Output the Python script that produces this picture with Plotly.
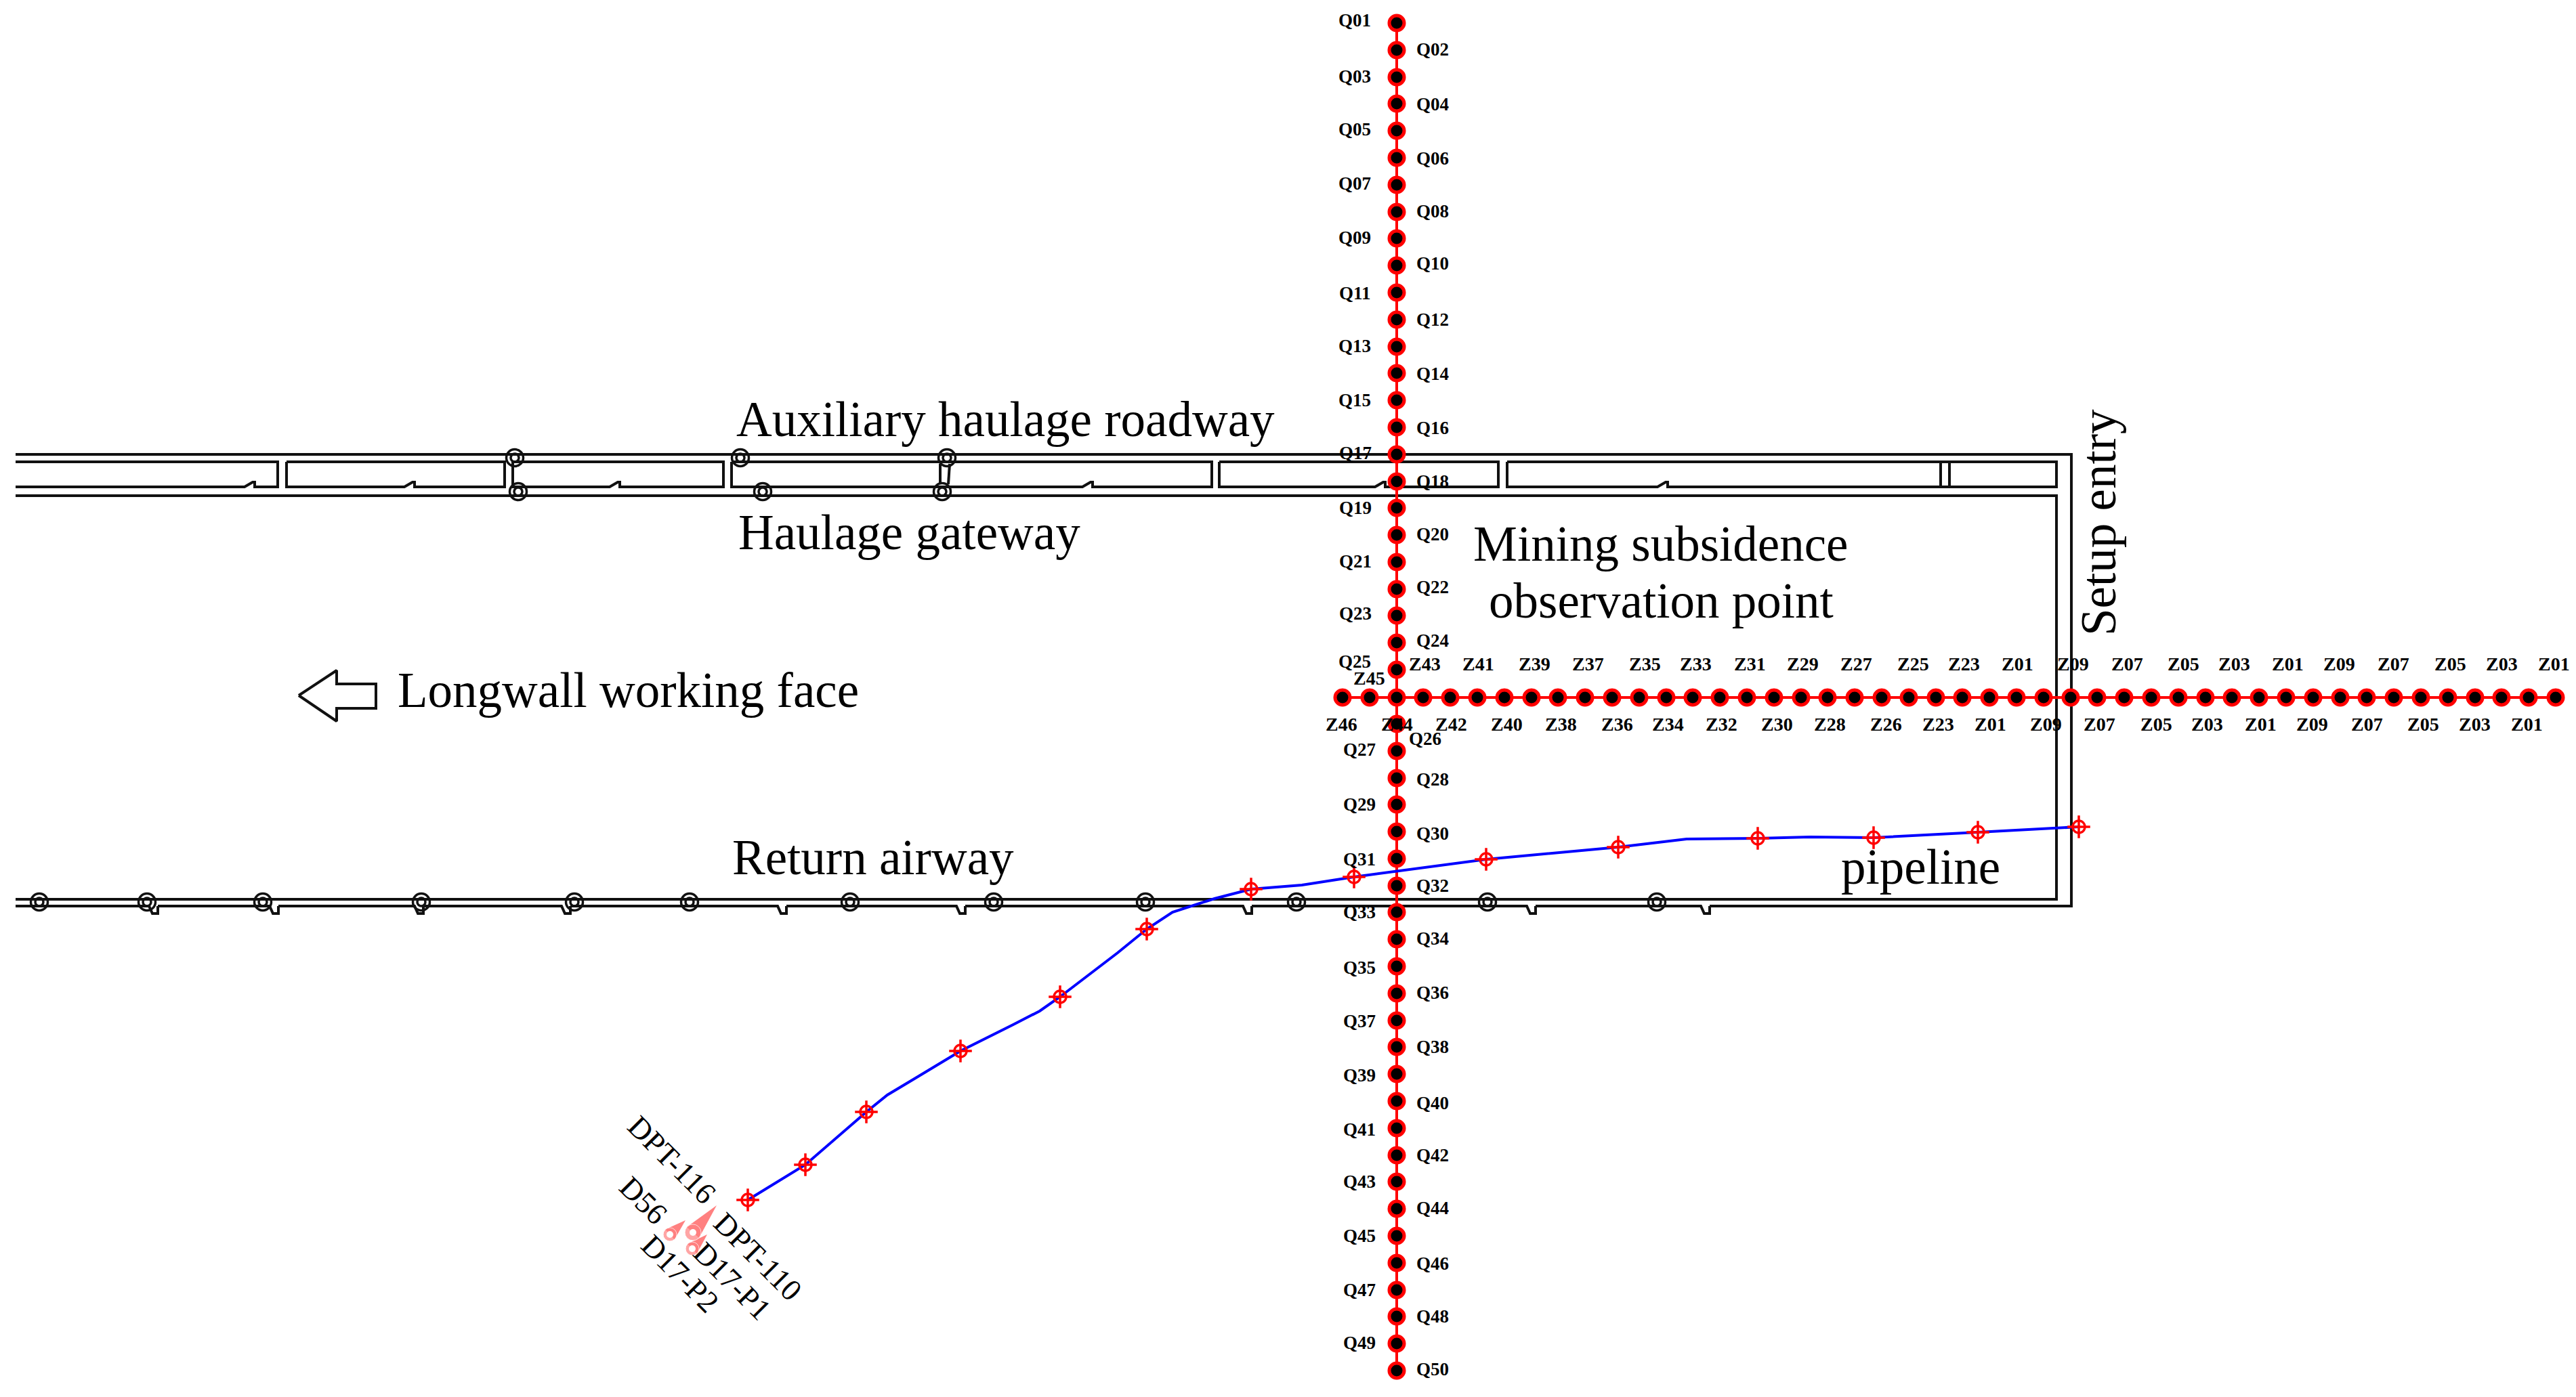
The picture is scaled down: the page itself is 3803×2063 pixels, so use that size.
"""
Longwall panel layout with the subsidence observation lines and the pipeline.
All coordinates are image pixels read off the picture.
"""

import plotly.graph_objects as go

W = 3803
H = 2063
SERIF = "Liberation Serif"

# Subsidence observation lines
q_labels = ["Q%02d" % i for i in range(1, 51)]
q_y = [34, 74, 114, 153, 193, 233, 273, 313, 352, 392, 432, 472, 512, 551, 591, 631, 671, 711, 750, 790, 830,
       870, 909, 949, 989, 1069, 1109, 1149, 1188, 1228, 1268, 1308, 1347, 1387, 1427, 1467, 1507, 1546, 1586,
       1626, 1666, 1706, 1745, 1785, 1825, 1865, 1905, 1944, 1984, 2024]
q_label_x = [2000, 2115, 2000, 2115, 2000, 2115, 2000, 2115, 2000, 2115, 2000, 2115, 2000, 2115, 2000, 2115, 2001,
             2115, 2001, 2115, 2001, 2115, 2001, 2115, 2000, 2104, 2007, 2115, 2007, 2115, 2007, 2115, 2007, 2115,
             2007, 2115, 2007, 2115, 2007, 2115, 2007, 2115, 2007, 2115, 2007, 2115, 2007, 2115, 2007, 2115]
q_label_y = [30, 73, 113, 154, 191, 234, 271, 312, 351, 389, 433, 472, 511, 552, 591, 632, 669, 711, 750, 789, 829,
             867, 906, 946, 977, 1091, 1107, 1151, 1188, 1231, 1269, 1308, 1347, 1386, 1429, 1466, 1508, 1546, 1588,
             1629, 1668, 1706, 1745, 1784, 1825, 1866, 1905, 1944, 1983, 2022]

z_x = [1982, 2022, 2062, 2101, 2141, 2181, 2221, 2261, 2300, 2340, 2380, 2420, 2460, 2499, 2539, 2579, 2619, 2659,
       2698, 2738, 2778, 2818, 2858, 2897, 2937, 2977, 3017, 3057, 3096, 3136, 3176, 3216, 3256, 3295, 3335, 3375,
       3415, 3455, 3494, 3534, 3574, 3614, 3654, 3693, 3733, 3773]
z_row_y = 1030

z_top_labels = ["Z45", "Z43", "Z41", "Z39", "Z37", "Z35", "Z33", "Z31", "Z29", "Z27", "Z25", "Z23", "Z01", "Z09",
                "Z07", "Z05", "Z03", "Z01", "Z09", "Z07", "Z05", "Z03", "Z01"]
z_top_x = [2021, 2103, 2182, 2265, 2344, 2428, 2503, 2583, 2661, 2740, 2824, 2899, 2978, 3060, 3140, 3223, 3298,
           3377, 3453, 3533, 3617, 3693, 3770]
z_top_y = [1001] + [980] * 22

z_bottom_labels = ["Z46", "Z44", "Z42", "Z40", "Z38", "Z36", "Z34", "Z32", "Z30", "Z28", "Z26", "Z23", "Z01", "Z09",
                   "Z07", "Z05", "Z03", "Z01", "Z09", "Z07", "Z05", "Z03", "Z01"]
z_bottom_x = [1980, 2062, 2142, 2224, 2304, 2387, 2462, 2541, 2623, 2701, 2784, 2861, 2938, 3020, 3099, 3183, 3258,
              3337, 3413, 3494, 3577, 3653, 3730]
z_bottom_y = 1069

# Pipeline
pipe_x = [1104, 1189, 1279, 1310, 1350, 1418, 1496, 1535, 1565, 1650, 1693, 1731, 1793, 1847, 1922, 1999, 2194, 2389,
          2490, 2595, 2672, 2766, 2920, 3069]
pipe_y = [1772, 1720, 1642, 1617, 1593, 1552, 1513, 1493, 1472, 1407, 1372, 1347, 1327, 1313, 1307, 1295, 1269, 1251,
          1239, 1238, 1236, 1237, 1229, 1221]
station_x = [1104, 1189, 1279, 1418, 1565, 1693, 1847, 1999, 2194, 2389, 2595, 2766, 2920, 3069]
station_y = [1772, 1720, 1642, 1552, 1472, 1372, 1313, 1295, 1269, 1251, 1238, 1237, 1229, 1221]

# Roadways
outer_x = [23, 3058, 3058]
outer_y = [671, 671, 1338]
inner_x = [23, 3036, 3036, 23]
inner_y = [732, 732, 1328, 1328]
return_notch_x = [2511, 2254, 1835, 1412, 1148, 829, 612, 398, 220]
panel_left = [23, 423, 757, 1080, 1800, 2225, 2878]
panel_right = [410, 745, 1068, 1789, 2212, 2865, 3036]
panel_notch = [361, 597, 900, 1598, 2030, 2447, None]
panel_join_x = [2865, 2878, None, 2865, 2878]
panel_join_y = [682, 682, None, 719, 719]
ring_x = [760, 1093, 1398, 765, 1126, 1391, 58, 217, 388, 622, 848, 1018, 1255, 1467, 1691, 1914, 2196, 2446]
ring_y = [676, 676, 676, 726, 726, 726, 1332, 1332, 1332, 1332, 1332, 1332, 1332, 1332, 1332, 1332, 1332, 1332]
link_x = [1388, 1388, None, 1402, 1400]
link_y = [685, 715, None, 685, 715]

# Direction arrow
arrow_x = [441, 497, 497, 555, 555, 497, 497, 441]
arrow_y = [1027, 990, 1010, 1010, 1046, 1046, 1065, 1027]

# Boreholes
drop_tip_x = [1012, 1058, 1044]
drop_tip_y = [1802, 1780, 1823]
drop_bulb_x = [989, 1023, 1022]
drop_bulb_y = [1823, 1820, 1844]
drop_bulb_size = [20, 24, 20]

hole_labels = ["DPT-116", "D56", "DPT-110", "D17-P1", "D17-P2"]
hole_label_x = [992, 950, 1119, 1081, 1004]
hole_label_y = [1713, 1773, 1856, 1892, 1881]

big_labels = ["Auxiliary haulage roadway", "Haulage gateway", "Mining subsidence", "observation point",
              "Longwall working face", "Return airway", "pipeline"]
big_label_x = [1484, 1342, 2452, 2452, 927, 1289, 2835]
big_label_y = [619, 786, 803, 887, 1019, 1266, 1280]

fig = go.Figure()


def add_line(x, y, color="#111111", width=4):
    fig.add_trace(go.Scatter(x=x, y=y, mode="lines", line=dict(color=color, width=width), hoverinfo="skip"))


# road outlines
ret_x = [23]
ret_y = [1338]
for n in reversed(return_notch_x):
    ret_x += [n, n + 5, n + 13, n + 13, None, n + 13]
    ret_y += [1338, 1349, 1349, 1338, None, 1338]
ret_x += [outer_x[-1]] + outer_x[::-1]
ret_y += [1338] + outer_y[::-1]
add_line(ret_x, ret_y)
add_line(inner_x, inner_y)

for i in range(len(panel_left)):
    px = [panel_left[i], panel_right[i], panel_right[i]]
    py = [682, 682, 719]
    if panel_notch[i] is not None:
        n = panel_notch[i]
        px += [n + 15, n + 15, n + 12, n]
        py += [719, 712, 712, 719]
    px.append(panel_left[i])
    py.append(719)
    if i > 0:
        px.append(panel_left[i])
        py.append(682)
    add_line(px, py)

add_line(panel_join_x, panel_join_y)
add_line(link_x, link_y)
add_line(arrow_x, arrow_y)

# rings along the roadways
for size in [25, 12]:
    fig.add_trace(go.Scatter(x=ring_x, y=ring_y, mode="markers", hoverinfo="skip",
                             marker=dict(symbol="circle-open", size=size, color="#111111",
                                         line=dict(color="#111111", width=3.5))))

# observation lines
add_line([2062, 2062], [q_y[0], q_y[-1]], color="#ff0000")
add_line([z_x[0], z_x[-1]], [z_row_y, z_row_y], color="#ff0000")
fig.add_trace(go.Scatter(x=[2062] * len(q_y), y=q_y, mode="markers", hoverinfo="skip",
                         marker=dict(size=22, color="black", line=dict(color="#ff0000", width=5))))
fig.add_trace(go.Scatter(x=z_x, y=[z_row_y] * len(z_x), mode="markers", hoverinfo="skip",
                         marker=dict(size=22, color="black", line=dict(color="#ff0000", width=5))))

# pipeline
add_line(pipe_x, pipe_y, color="#0000ff")
fig.add_trace(go.Scatter(x=station_x, y=station_y, mode="markers", hoverinfo="skip",
                         marker=dict(symbol="circle-open", size=18, color="#ff0000",
                                     line=dict(color="#ff0000", width=3.5))))
fig.add_trace(go.Scatter(x=station_x, y=station_y, mode="markers", hoverinfo="skip",
                         marker=dict(symbol="cross-thin-open", size=24, color="#ff0000",
                                     line=dict(color="#ff0000", width=3.5))))

# boreholes, tail first then bulb and hole
for i in range(len(drop_tip_x)):
    dx = drop_tip_x[i] - drop_bulb_x[i]
    dy = drop_tip_y[i] - drop_bulb_y[i]
    d = (dx ** 2 + dy ** 2) ** 0.5
    r = drop_bulb_size[i] / 2
    fig.add_trace(go.Scatter(x=[drop_tip_x[i], drop_bulb_x[i] - dy / d * r, drop_bulb_x[i] + dy / d * r],
                             y=[drop_tip_y[i], drop_bulb_y[i] + dx / d * r, drop_bulb_y[i] - dx / d * r],
                             mode="lines", fill="toself", fillcolor="#ff8080", line=dict(width=0),
                             hoverinfo="skip"))
fig.add_trace(go.Scatter(x=drop_bulb_x, y=drop_bulb_y, mode="markers", hoverinfo="skip",
                         marker=dict(size=drop_bulb_size, color="#ff8080")))
fig.add_trace(go.Scatter(x=drop_bulb_x, y=drop_bulb_y, mode="markers", hoverinfo="skip",
                         marker=dict(size=10, color="white")))


def add_label(text, x, y, size, angle=0, bold=False):
    if bold:
        text = "<b>%s</b>" % text
    fig.add_annotation(x=x, y=y, text=text, showarrow=False, textangle=angle, xanchor="center", yanchor="middle",
                       font=dict(family=SERIF, size=size, color="black"))


for t, x, y in zip(q_labels, q_label_x, q_label_y):
    add_label(t, x, y, 27, bold=True)
for t, x, y in zip(z_top_labels, z_top_x, z_top_y):
    add_label(t, x, y, 28, bold=True)
for t, x in zip(z_bottom_labels, z_bottom_x):
    add_label(t, x, z_bottom_y, 28, bold=True)
for t, x, y in zip(hole_labels, hole_label_x, hole_label_y):
    add_label(t, x, y, 45, angle=45)
for t, x, y in zip(big_labels, big_label_x, big_label_y):
    add_label(t, x, y, 73)
add_label("Setup entry", 3098, 772, 73, angle=-90)

fig.update_layout(
    width=W,
    height=H,
    margin=dict(l=0, r=0, t=0, b=0),
    plot_bgcolor="white",
    paper_bgcolor="white",
    showlegend=False,
    hovermode=False,
)
fig.update_xaxes(range=[0, W], visible=False, showgrid=False)
fig.update_yaxes(range=[H, 0], visible=False, showgrid=False)

fig.write_html("out.html", config={"displayModeBar": False},
               post_script="document.body.style.margin='0';document.body.style.overflow='hidden';")
